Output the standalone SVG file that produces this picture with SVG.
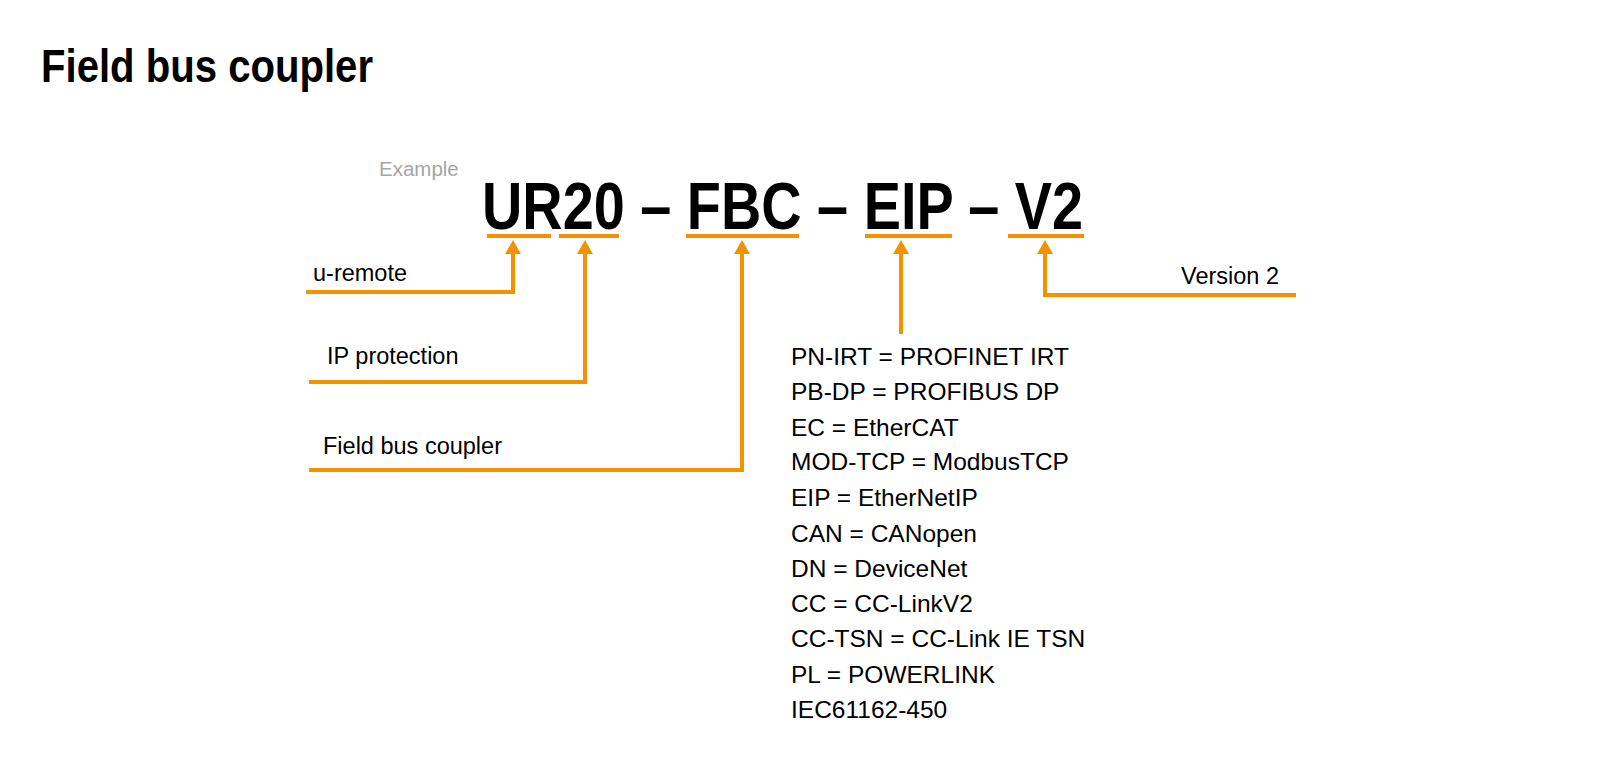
<svg xmlns="http://www.w3.org/2000/svg" width="1600" height="765" viewBox="0 0 1600 765">
<style>
.title{font-family:"Liberation Sans",Arial,sans-serif;font-weight:bold;font-size:47px;fill:#000}
.code{font-family:"Liberation Sans",Arial,sans-serif;font-weight:bold;font-size:66px;fill:#000}
.ex{font-family:"Liberation Sans",Arial,sans-serif;font-size:20.5px;fill:#a6a6a6}
.lbl{font-family:"Liberation Sans",Arial,sans-serif;font-size:23.5px;fill:#000}
.list{font-family:"Liberation Sans",Arial,sans-serif;font-size:24.5px;fill:#000}
.ul{stroke:#F39200;stroke-width:4;fill:none}
.conn{stroke:#F39200;stroke-width:4;fill:none;marker-end:url(#ah)}
</style>
<defs>
<marker id="ah" viewBox="0 0 14 16" refX="0" refY="8" markerWidth="14" markerHeight="16" markerUnits="userSpaceOnUse" orient="auto">
<path d="M0,0 L14,8 L0,16 z" fill="#F39200"/>
</marker>
</defs>
<rect width="1600" height="765" fill="#fff"/>
<text class="title" x="41" y="82" textLength="332" lengthAdjust="spacingAndGlyphs">Field bus coupler</text>
<g id="code">
<text class="ex" x="379" y="176">Example</text>
<text class="code" x="482" y="229" textLength="601" lengthAdjust="spacingAndGlyphs">UR20 – FBC – EIP – V2</text>
</g>
<g id="underlines">
<line class="ul" x1="487" y1="236" x2="551" y2="236"/>
<line class="ul" x1="559" y1="236" x2="619" y2="236"/>
<line class="ul" x1="686" y1="236" x2="799" y2="236"/>
<line class="ul" x1="865" y1="236" x2="952" y2="236"/>
<line class="ul" x1="1008" y1="236" x2="1084" y2="236"/>
</g>
<g id="connectors">
<path class="conn" d="M306,292 H513 V254"/>
<path class="conn" d="M309,382 H585 V254"/>
<path class="conn" d="M309,470 H742 V254"/>
<path class="conn" d="M901,334 V254"/>
<path class="conn" d="M1296,295 H1045 V254"/>
</g>
<g id="n-uremote"><text class="lbl" x="313" y="281">u-remote</text></g>
<g id="n-ip"><text class="lbl" x="327" y="364">IP protection</text></g>
<g id="n-fbc"><text class="lbl" x="323" y="454">Field bus coupler</text></g>
<g id="n-version"><text class="lbl" x="1181" y="284">Version 2</text></g>
<g id="n-protocols" class="list">
<text x="791" y="365">PN-IRT = PROFINET IRT</text>
<text x="791" y="400">PB-DP = PROFIBUS DP</text>
<text x="791" y="436">EC = EtherCAT</text>
<text x="791" y="470">MOD-TCP = ModbusTCP</text>
<text x="791" y="506">EIP = EtherNetIP</text>
<text x="791" y="542">CAN = CANopen</text>
<text x="791" y="577">DN = DeviceNet</text>
<text x="791" y="612">CC = CC-LinkV2</text>
<text x="791" y="647">CC-TSN = CC-Link IE TSN</text>
<text x="791" y="683">PL = POWERLINK</text>
<text x="791" y="718">IEC61162-450</text>
</g>
</svg>
